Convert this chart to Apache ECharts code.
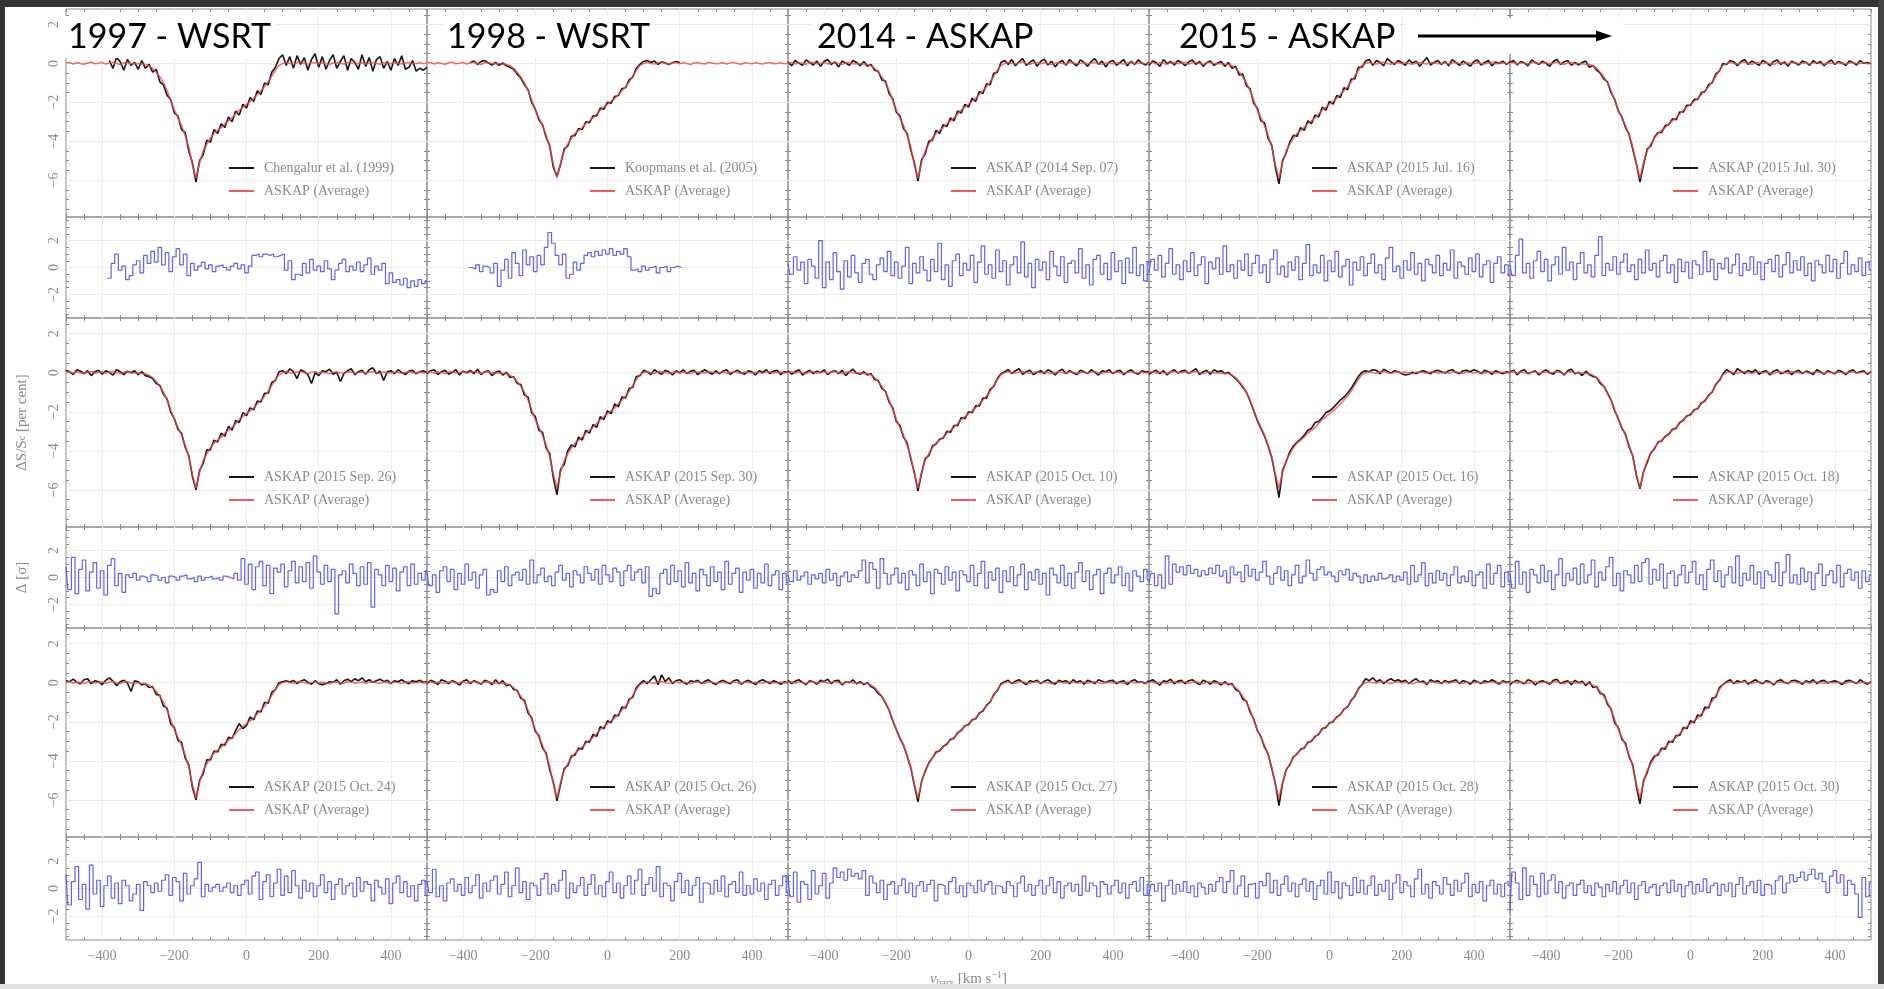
<!DOCTYPE html>
<html><head><meta charset="utf-8">
<script src="https://cdn.jsdelivr.net/npm/echarts@6/dist/echarts.min.js"></script>
<style>html,body{margin:0;padding:0;background:#fff;overflow:hidden}#c{width:1884px;height:989px}</style>
</head><body><div id="c"></div>
<script>
// ---------------- DATA ----------------
const velocity = [
-500,-490,-480,-470,-460,-450,-440,-430,-420,-410,
-400,-390,-380,-370,-360,-350,-340,-330,-320,-310,
-300,-290,-280,-270,-260,-250,-240,-230,-220,-210,
-200,-190,-180,-170,-160,-150,-140,-130,-120,-110,
-100,-90,-80,-70,-60,-50,-40,-30,-20,-10,
0,10,20,30,40,50,60,70,80,90,
100,110,120,130,140,150,160,170,180,190,
200,210,220,230,240,250,260,270,280,290,
300,310,320,330,340,350,360,370,380,390,
400,410,420,430,440,450,460,470,480,490,
500];

const average = [
0.02,0.05,-0.03,0.04,0.00,-0.04,0.03,0.06,-0.02,0.01,
0.05,-0.03,0.02,0.06,0.00,-0.05,0.03,0.05,-0.02,0.00,
-0.02,-0.04,-0.05,-0.12,-0.25,-0.45,-0.70,-1.00,-1.40,-1.90,
-2.40,-2.80,-3.20,-3.70,-4.30,-5.20,-5.90,-5.10,-4.50,-4.15,
-3.85,-3.60,-3.45,-3.30,-3.10,-2.95,-2.80,-2.60,-2.40,-2.25,
-2.10,-1.95,-1.80,-1.60,-1.40,-1.20,-0.95,-0.65,-0.35,-0.10,
0.00,0.05,0.00,-0.03,0.04,0.06,0.00,-0.04,0.02,0.05,
-0.02,0.03,0.00,-0.05,0.02,0.04,0.00,-0.03,0.05,0.02,
-0.02,0.00,0.04,-0.03,0.02,0.05,0.00,-0.04,0.03,0.01,
-0.02,0.04,0.00,-0.03,0.02,0.05,-0.01,0.00,0.03,-0.02,
0.01];

// individual spectra (black)
const obs01 = [ // 1997 WSRT
null,null,null,null,null,null,null,null,null,null,
null,null,0.15,-0.25,0.30,0.10,-0.35,0.20,-0.10,0.05,
-0.30,0.15,-0.25,-0.05,-0.45,-0.30,-0.95,-1.10,-1.65,-1.85,
-2.55,-2.70,-3.40,-3.55,-4.50,-5.10,-6.10,-5.00,-4.70,-3.95,
-4.05,-3.40,-3.60,-3.10,-3.30,-2.75,-3.00,-2.45,-2.65,-2.10,
-2.30,-1.75,-1.95,-1.40,-1.60,-1.00,-1.10,-0.45,-0.20,0.25,
0.45,-0.10,0.35,-0.25,0.40,-0.05,0.30,-0.35,0.20,0.50,
-0.20,0.35,-0.30,0.15,0.45,-0.25,0.10,0.40,-0.35,0.25,
0.05,-0.30,0.45,-0.15,0.30,-0.40,0.20,0.35,-0.25,0.10,
-0.35,0.25,-0.10,0.40,-0.30,-0.20,0.15,-0.40,-0.25,-0.35,
-0.20];
const obs02 = [ // 1998 WSRT
null,null,null,null,null,null,null,null,null,null,
null,null,0.05,0.12,-0.05,0.10,0.15,0.02,-0.08,0.05,
-0.10,0.02,-0.12,-0.20,-0.30,-0.55,-0.75,-1.10,-1.35,-2.00,
-2.35,-2.90,-3.15,-3.80,-4.25,-5.35,-5.80,-5.20,-4.40,-4.25,
-3.75,-3.70,-3.35,-3.40,-3.00,-3.05,-2.70,-2.70,-2.30,-2.35,
-2.00,-2.05,-1.70,-1.65,-1.30,-1.25,-0.85,-0.70,-0.25,-0.05,
0.10,0.15,0.05,0.12,-0.05,0.08,0.02,-0.06,0.04,0.10,
0.05,null,null,null,null,null,null,null,null,null,
null,null,null,null,null,null,null,null,null,null,
null,null,null,null,null,null,null,null,null,null,
null];
const obs03 = [
0.08,-0.12,0.15,0.02,-0.10,0.18,0.05,-0.08,0.12,-0.15,
0.10,0.20,-0.05,0.08,-0.18,0.12,0.02,-0.10,0.15,0.05,
-0.12,0.10,-0.15,-0.05,-0.35,-0.40,-0.85,-0.90,-1.55,-1.80,
-2.50,-2.70,-3.35,-3.60,-4.45,-5.10,-6.05,-4.95,-4.65,-4.00,
-3.95,-3.45,-3.60,-3.15,-3.25,-2.80,-2.95,-2.45,-2.55,-2.10,
-2.25,-1.80,-1.95,-1.45,-1.55,-1.05,-1.10,-0.50,-0.45,0.05,
0.15,-0.05,0.20,-0.12,0.08,0.25,-0.10,0.05,0.18,-0.15,
0.10,0.22,-0.08,0.12,-0.18,0.05,0.15,-0.10,0.20,0.02,
-0.12,0.18,0.05,-0.15,0.10,0.25,-0.05,0.12,-0.18,0.08,
0.15,-0.10,0.05,0.20,-0.12,0.10,-0.05,0.18,0.02,-0.08,
0.05];
const obs04 = [
-0.10,0.12,0.05,-0.15,0.20,0.00,0.10,-0.08,0.15,0.05,
-0.12,0.08,0.18,-0.05,0.10,-0.15,0.05,0.12,-0.10,0.02,
0.10,-0.15,0.05,-0.25,-0.15,-0.60,-0.55,-1.15,-1.30,-2.05,
-2.30,-2.95,-3.05,-3.85,-4.20,-5.35,-6.20,-5.00,-4.60,-4.05,
-3.70,-3.75,-3.30,-3.45,-2.95,-3.10,-2.65,-2.75,-2.25,-2.40,
-1.95,-2.10,-1.65,-1.75,-1.25,-1.35,-0.80,-0.80,-0.20,-0.20,
0.12,0.20,-0.10,0.15,0.05,-0.12,0.25,0.08,-0.05,0.15,
0.05,-0.10,0.18,0.02,0.12,-0.15,0.10,0.30,-0.08,0.05,
0.15,-0.05,0.10,-0.12,0.20,0.05,-0.10,0.12,0.00,-0.15,
0.10,0.18,-0.08,0.05,0.15,-0.12,0.08,0.00,0.12,-0.05,
0.08];
const obs05 = [
0.05,0.15,-0.08,0.10,0.02,-0.12,0.18,0.05,-0.05,0.12,
0.00,-0.15,0.10,0.20,-0.05,0.08,0.15,-0.10,0.05,-0.08,
0.05,0.12,-0.20,-0.10,-0.35,-0.50,-0.80,-0.95,-1.50,-1.85,
-2.45,-2.75,-3.30,-3.65,-4.40,-5.15,-6.10,-5.20,-4.40,-4.25,
-3.80,-3.55,-3.55,-3.20,-3.15,-2.85,-2.90,-2.50,-2.50,-2.15,
-2.15,-1.85,-1.85,-1.50,-1.45,-1.10,-1.00,-0.55,-0.40,0.00,
-0.05,0.15,0.08,-0.12,0.10,0.20,-0.05,0.12,0.02,-0.10,
0.15,0.05,-0.12,0.10,0.18,-0.05,0.08,-0.15,0.12,0.02,
-0.08,0.12,0.05,-0.10,0.15,0.00,0.10,-0.12,0.05,0.18,
-0.05,0.10,0.02,-0.10,0.12,0.05,-0.08,0.15,0.00,0.05,
-0.02];
const obs06 = [
0.12,0.05,-0.10,0.15,0.08,-0.05,0.10,-0.15,0.05,0.12,
-0.08,0.10,0.02,-0.12,0.15,0.05,-0.10,0.08,0.00,0.10,
-0.10,0.05,-0.15,-0.20,-0.30,-0.55,-0.65,-1.10,-1.35,-2.00,
-2.35,-2.90,-3.10,-3.80,-4.25,-5.30,-6.00,-5.00,-4.65,-3.95,
-3.95,-3.45,-3.55,-3.10,-3.25,-2.75,-2.95,-2.45,-2.55,-2.05,
-2.20,-1.80,-1.90,-1.45,-1.50,-1.05,-1.05,-0.50,-0.40,0.05,
0.10,-0.05,0.20,0.05,-0.30,0.15,0.05,-0.10,-0.55,0.00,
-0.15,0.10,0.05,0.18,-0.08,0.02,-0.45,-0.05,0.10,0.20,
-0.10,0.05,0.12,-0.08,0.15,0.25,-0.05,0.08,-0.40,0.05,
0.10,-0.05,0.15,0.02,-0.10,0.08,0.12,-0.05,0.05,0.10,
0.00];
const obs07 = [
-0.05,0.10,0.15,-0.10,0.05,0.12,-0.08,0.02,0.15,-0.12,
0.08,0.00,0.12,-0.05,0.18,-0.10,0.05,0.10,-0.15,0.02,
0.08,-0.12,0.02,-0.25,-0.20,-0.55,-0.60,-1.15,-1.25,-2.05,
-2.25,-2.95,-3.05,-3.85,-4.15,-5.40,-6.25,-4.95,-4.70,-4.00,
-3.70,-3.80,-3.30,-3.45,-2.95,-3.10,-2.65,-2.80,-2.25,-2.40,
-1.95,-2.10,-1.60,-1.75,-1.25,-1.30,-0.80,-0.75,-0.20,-0.15,
0.12,0.05,-0.10,0.15,0.02,-0.08,0.12,0.05,-0.12,0.10,
0.00,0.15,-0.05,0.08,0.12,-0.10,0.05,0.15,0.02,-0.08,
0.10,-0.05,0.08,0.15,-0.10,0.05,0.12,0.00,-0.08,0.10,
0.05,-0.12,0.10,0.02,0.15,-0.05,0.08,0.12,-0.10,0.05,
0.02];
const obs08 = [
0.10,-0.08,0.05,0.15,-0.12,0.02,0.12,-0.05,0.08,0.00,
0.15,-0.10,0.05,0.10,-0.05,0.12,-0.15,0.05,0.18,-0.02,
-0.08,0.05,-0.12,-0.05,-0.35,-0.40,-0.80,-0.95,-1.50,-1.80,
-2.50,-2.70,-3.30,-3.60,-4.40,-5.10,-6.05,-5.15,-4.40,-4.25,
-3.75,-3.65,-3.40,-3.35,-3.00,-3.05,-2.70,-2.70,-2.30,-2.35,
-2.00,-2.05,-1.70,-1.70,-1.30,-1.30,-0.85,-0.70,-0.30,-0.05,
0.05,0.15,-0.05,0.10,0.20,-0.08,0.05,0.12,-0.10,0.02,
0.10,-0.05,0.15,0.05,-0.12,0.08,0.18,-0.05,0.10,0.00,
-0.10,0.12,0.05,-0.05,0.15,0.02,-0.12,0.10,0.05,0.15,
-0.05,0.08,0.12,-0.10,0.05,0.15,0.00,-0.08,0.10,0.05,
0.05];
const obs09 = [
-0.08,0.05,0.12,-0.05,0.10,-0.12,0.05,0.15,-0.02,0.08,
0.12,-0.05,0.08,0.20,-0.10,0.05,0.12,-0.08,0.15,0.05,
0.10,-0.05,0.02,-0.15,-0.30,-0.50,-0.75,-1.00,-1.45,-1.95,
-2.45,-2.85,-3.25,-3.75,-4.35,-5.30,-6.40,-5.00,-4.55,-4.05,
-3.75,-3.55,-3.40,-3.20,-2.95,-2.85,-2.55,-2.50,-2.30,-2.05,
-1.95,-1.80,-1.60,-1.40,-1.25,-1.05,-0.80,-0.50,-0.20,0.02,
0.10,0.05,0.15,0.12,-0.05,0.18,0.08,-0.02,0.10,0.05,
-0.05,-0.12,-0.08,0.02,-0.05,0.05,0.10,0.02,-0.05,0.08,
0.12,0.05,-0.02,0.10,0.15,0.02,-0.05,0.10,0.12,0.05,
0.15,0.08,-0.05,0.12,0.05,-0.08,0.10,0.02,-0.05,0.05,
0.00];
const obs10 = [
0.05,0.12,-0.10,0.08,0.15,-0.05,0.02,0.10,-0.12,0.05,
0.15,0.00,-0.08,0.12,0.05,-0.12,0.10,0.18,-0.05,0.02,
-0.15,0.08,-0.10,-0.20,-0.25,-0.55,-0.70,-1.05,-1.40,-1.95,
-2.35,-2.85,-3.15,-3.80,-4.25,-5.25,-5.95,-5.05,-4.60,-4.10,
-3.90,-3.55,-3.50,-3.25,-3.15,-2.90,-2.85,-2.55,-2.45,-2.20,
-2.15,-1.90,-1.85,-1.55,-1.45,-1.15,-1.00,-0.60,-0.40,-0.05,
0.15,0.05,-0.10,0.20,0.08,-0.05,0.12,0.02,0.15,-0.08,
0.05,0.10,-0.12,0.08,0.15,-0.05,0.02,0.12,-0.10,0.05,
0.12,-0.05,0.08,0.02,-0.10,0.15,0.05,-0.08,0.10,0.02,
-0.05,0.12,0.05,-0.10,0.08,0.15,-0.02,0.05,0.10,-0.08,
0.05];
const obs11 = [
0.10,0.05,0.18,0.02,-0.05,0.15,0.20,-0.05,0.10,0.05,
-0.10,0.12,0.25,0.08,-0.15,0.05,0.12,0.00,-0.45,0.10,
0.05,-0.12,-0.05,-0.25,-0.20,-0.60,-0.65,-1.20,-1.30,-2.10,
-2.30,-2.95,-3.05,-3.85,-4.20,-5.35,-6.00,-5.00,-4.65,-3.95,
-3.95,-3.50,-3.55,-3.15,-3.20,-2.80,-2.85,-2.45,-2.10,-2.35,
-2.20,-1.75,-1.90,-1.45,-1.50,-1.00,-1.05,-0.50,-0.35,0.00,
0.05,0.10,0.02,0.12,-0.05,0.08,0.15,0.02,-0.08,0.10,
-0.05,-0.10,-0.05,0.05,0.02,0.15,-0.08,0.10,0.18,0.05,
0.20,0.10,0.25,0.05,0.15,0.02,0.10,0.18,0.05,0.12,
-0.05,0.10,0.05,0.15,0.02,-0.05,0.10,0.05,0.12,0.02,
0.05];
const obs12 = [
-0.05,0.12,0.05,-0.10,0.15,0.08,-0.05,0.10,0.02,-0.12,
0.08,0.15,-0.05,0.10,0.02,-0.08,0.12,0.05,-0.10,0.15,
-0.05,0.10,-0.15,-0.10,-0.35,-0.40,-0.80,-0.90,-1.55,-1.80,
-2.50,-2.70,-3.35,-3.60,-4.45,-5.10,-6.05,-5.20,-4.40,-4.25,
-3.75,-3.70,-3.35,-3.40,-3.00,-3.05,-2.65,-2.75,-2.25,-2.35,
-1.95,-2.05,-1.65,-1.70,-1.25,-1.30,-0.85,-0.75,-0.25,-0.05,
0.10,-0.05,0.15,0.35,-0.10,0.40,0.05,0.25,-0.05,0.10,
0.15,0.02,-0.08,0.10,0.05,0.12,-0.05,0.08,0.15,0.00,
-0.10,0.05,0.12,0.02,-0.05,0.10,0.15,-0.08,0.05,0.12,
0.02,-0.10,0.08,0.15,0.05,-0.05,0.10,0.02,-0.08,0.05,
0.00];
const obs13 = [
0.12,-0.05,0.08,0.15,0.02,-0.10,0.10,0.05,-0.08,0.12,
0.05,0.18,-0.05,0.10,0.12,-0.12,0.05,0.00,0.15,-0.05,
0.05,-0.10,0.00,-0.20,-0.30,-0.55,-0.70,-1.05,-1.40,-1.95,
-2.40,-2.85,-3.20,-3.75,-4.35,-5.25,-6.10,-5.05,-4.55,-4.10,
-3.85,-3.55,-3.50,-3.25,-3.15,-2.90,-2.85,-2.55,-2.45,-2.20,
-2.15,-1.90,-1.85,-1.55,-1.45,-1.15,-1.00,-0.60,-0.40,-0.05,
0.05,0.12,-0.05,0.08,0.15,0.02,-0.10,0.10,0.05,0.12,
-0.05,0.08,0.15,0.02,-0.08,0.12,0.05,0.10,-0.05,0.15,
0.02,0.10,-0.08,0.12,0.05,-0.05,0.15,0.08,0.00,0.10,
0.12,-0.05,0.05,0.10,-0.10,0.08,0.15,0.02,0.05,-0.05,
0.10];
const obs14 = [
0.05,0.15,0.02,-0.12,0.10,0.05,0.18,-0.05,0.08,0.12,
-0.05,0.10,0.15,0.02,-0.10,0.12,0.05,-0.08,0.10,0.02,
-0.12,0.05,-0.10,-0.05,-0.35,-0.45,-0.85,-0.95,-1.50,-1.85,
-2.45,-2.75,-3.30,-3.65,-4.40,-5.15,-6.30,-5.15,-4.45,-4.20,
-3.80,-3.65,-3.40,-3.35,-3.05,-3.00,-2.75,-2.65,-2.35,-2.30,
-2.05,-2.00,-1.75,-1.65,-1.35,-1.25,-0.90,-0.70,-0.30,-0.10,
0.20,0.10,0.25,0.05,0.15,-0.05,0.10,0.20,0.08,0.15,
0.05,0.12,-0.05,0.10,0.20,0.02,0.08,-0.10,0.15,0.05,
0.10,-0.05,0.12,0.02,0.08,0.15,-0.05,0.10,0.05,-0.08,
0.12,0.05,-0.05,0.10,0.02,0.15,0.05,-0.08,0.10,0.02,
0.05];
const obs15 = [
-0.10,0.05,0.12,0.02,-0.05,0.15,0.08,-0.12,0.05,0.10,
0.02,-0.08,0.12,0.18,-0.05,0.05,0.10,-0.10,0.12,0.00,
0.08,-0.15,0.05,-0.25,-0.20,-0.55,-0.60,-1.10,-1.35,-2.05,
-2.30,-2.90,-3.10,-3.80,-4.20,-5.30,-6.20,-5.00,-4.60,-4.05,
-3.75,-3.70,-3.35,-3.40,-3.00,-3.05,-2.70,-2.70,-2.30,-2.35,
-1.95,-2.05,-1.65,-1.70,-1.25,-1.30,-0.80,-0.75,-0.25,-0.10,
0.05,0.15,-0.05,0.10,0.02,0.12,-0.08,0.05,0.15,0.02,
-0.05,0.10,0.05,-0.12,0.08,0.15,0.02,-0.05,0.10,0.12,
0.05,-0.08,0.10,0.02,0.15,-0.05,0.08,0.12,-0.02,0.05,
0.10,0.02,-0.10,0.08,0.12,0.05,-0.05,0.15,0.02,-0.08,
0.05];

// residuals (blue), in sigma
const res01 = [
null,null,null,null,null,null,null,null,null,null,
null,null,-0.8,0.3,1.0,-0.2,0.1,-0.9,-0.6,0.2,
0.5,-0.4,0.9,0.3,1.2,0.4,1.5,0.2,1.1,-0.3,
0.8,1.4,0.2,1.0,-0.6,0.3,-0.2,0.1,0.4,-0.1,
0.2,-0.3,0.1,0.2,0.0,-0.2,0.1,0.3,-0.1,0.2,
-0.4,0.1,0.9,1.0,0.8,1.0,0.9,1.0,0.8,0.9,
1.0,-0.2,0.5,-0.9,-0.5,-0.6,0.3,-0.4,0.6,-0.2,
0.1,-0.3,0.5,-0.1,-0.9,-0.2,0.3,0.6,-0.3,0.1,
-0.2,0.4,-0.3,0.2,0.7,-0.5,0.1,-0.2,0.3,-1.2,
-0.4,-1.1,-0.9,-1.3,-0.8,-1.5,-1.0,-1.4,-0.9,-1.2,
-1.0];
const res02 = [
null,null,null,null,null,null,null,null,null,null,
null,null,0.0,-0.1,0.2,-0.3,0.1,0.0,-0.4,0.3,
-1.4,-0.2,0.6,-0.8,1.1,0.3,-0.6,1.3,0.2,0.8,
-0.3,0.9,0.2,1.5,2.6,1.8,0.9,0.2,1.0,-0.8,
-0.5,0.4,-0.2,0.3,0.9,1.1,0.8,1.2,0.9,1.3,
1.0,1.4,0.9,1.2,1.0,1.4,0.8,-0.2,-0.1,-0.3,
0.1,-0.2,0.0,0.1,-0.4,0.0,0.1,-0.3,0.0,0.1,
0.0,null,null,null,null,null,null,null,null,null,
null,null,null,null,null,null,null,null,null,null,
null,null,null,null,null,null,null,null,null,null,
null];
const res03 = [
0.3,-0.5,0.8,-0.2,0.4,-1.2,0.6,0.1,-0.8,2.0,
-1.5,0.4,-0.9,1.1,-0.3,-1.6,0.5,-0.7,0.9,-0.4,
-1.1,0.3,0.6,-0.5,-0.9,0.2,0.7,-0.3,1.2,-0.6,
0.4,-0.8,0.1,1.5,-1.2,0.3,-0.4,0.8,-0.2,-1.0,
0.6,-0.3,1.8,-0.9,0.2,-1.4,0.5,1.0,-0.6,0.3,
-0.2,0.9,-1.1,0.4,1.6,-0.5,0.2,-0.8,1.3,-0.3,
0.5,-1.3,0.2,0.8,-0.4,1.9,-0.7,0.3,-1.5,0.6,
-0.2,0.4,-0.9,1.2,0.1,-0.6,0.8,-1.1,0.3,0.5,
-0.4,1.4,-0.8,0.2,-1.3,0.6,0.9,-0.5,0.3,-0.9,
1.1,-0.3,0.5,-1.2,0.7,-0.4,1.5,-0.6,0.2,-1.0,
0.4];
const res04 = [
-0.4,0.6,-0.2,0.9,-0.7,0.3,1.4,-0.5,0.2,-0.9,
0.5,-0.3,1.1,-0.6,0.2,0.8,-1.2,0.4,-0.1,0.7,
-0.5,1.6,-0.3,0.2,-0.8,0.5,-0.2,1.0,-0.6,0.3,
0.9,-0.4,0.2,-1.1,0.6,1.3,-0.5,0.1,-0.7,0.4,
-0.2,0.8,-0.9,0.3,1.7,-0.6,0.2,-0.4,0.9,-1.0,
0.5,-0.3,1.2,-0.7,0.1,0.6,-1.3,0.4,-0.2,0.8,
-0.6,0.3,1.0,-0.4,0.2,-0.9,0.7,1.5,-0.3,0.1,
-0.8,0.5,-0.2,1.1,-0.5,0.3,-1.0,0.6,0.2,-0.4,
0.9,-0.6,0.3,-0.2,1.3,-0.8,0.4,0.1,-0.5,0.7,
-0.3,1.0,-0.7,0.2,0.5,-1.1,0.3,0.8,-0.4,0.2,
-0.6];
const res05 = [
0.2,-0.6,0.9,2.1,-0.4,0.3,-0.8,0.5,1.2,-0.3,
0.6,-1.0,0.2,0.8,-0.5,1.5,-0.2,0.4,-0.9,0.3,
1.1,-0.4,0.2,-0.7,0.9,2.3,-0.6,0.3,-0.2,0.8,
-0.5,0.4,1.0,-0.3,0.2,-0.9,0.6,-0.4,1.3,-0.2,
0.3,-0.7,0.5,0.9,-0.4,0.2,-1.1,0.6,-0.3,0.4,
-0.8,0.5,0.2,-0.5,1.2,-0.3,0.6,-0.9,0.3,-0.1,
0.7,-0.4,0.2,1.0,-0.6,0.3,-0.2,0.8,-0.5,0.4,
-0.9,0.3,0.6,-0.3,0.9,-0.7,0.2,1.1,-0.4,0.5,
-0.2,0.8,-0.6,0.3,-1.0,0.5,0.2,-0.4,0.9,-0.3,
0.6,-0.8,0.3,1.2,-0.5,0.2,-0.3,0.7,-0.6,0.4,
-0.2];
const res06 = [
0.8,-0.9,1.5,-1.2,0.6,1.3,-1.0,0.4,1.1,-0.8,
0.5,-1.3,0.9,1.4,-0.6,0.3,-1.1,0.2,0.0,0.3,
-0.2,0.1,0.0,-0.3,0.2,0.1,-0.2,0.0,-0.4,0.1,
0.0,-0.2,0.1,0.2,-0.1,0.0,-0.3,0.1,-0.2,0.0,
0.1,-0.1,0.0,-0.2,0.1,0.0,-0.1,0.3,-0.2,1.4,
-0.5,1.0,-0.9,0.8,1.2,-0.6,0.9,-1.2,0.7,0.4,
1.0,-0.7,0.5,1.2,-0.4,0.8,-0.3,1.1,-0.8,1.6,
0.4,-0.5,0.9,-0.3,0.6,-2.7,0.2,0.5,-0.4,1.0,
0.3,-0.6,0.8,-0.5,1.1,-2.2,0.6,0.2,-0.6,0.9,
-0.3,0.7,-1.0,0.4,0.8,-0.6,1.0,-0.5,0.3,-0.2,
0.5];
const res07 = [
0.4,-0.6,0.2,-1.1,0.5,0.8,-0.3,0.6,-0.9,0.3,
-0.5,1.0,-0.2,0.4,-0.8,0.2,0.6,-1.3,-0.9,-1.1,
0.5,-0.3,0.8,-0.6,0.2,0.4,-0.2,0.6,-0.5,1.3,
-0.4,0.2,0.7,-0.3,0.1,-0.6,0.4,0.9,-0.2,0.3,
-0.7,0.5,0.2,-0.4,0.8,0.3,-0.2,0.6,-0.5,0.9,
0.2,-0.3,0.7,0.4,-0.6,0.5,0.9,-0.2,0.4,0.6,
-0.4,0.8,-1.4,-0.8,-1.2,0.3,0.6,-0.5,0.9,-0.3,
0.5,-0.7,1.1,-0.4,0.3,-1.0,0.6,0.2,-0.6,0.8,
-0.3,0.4,-0.9,1.2,-0.5,0.3,0.7,-1.1,0.4,-0.2,
0.6,-0.8,0.3,-0.4,1.0,-0.6,0.2,0.5,-0.9,0.3,
-0.4];
const res08 = [
0.2,-0.3,0.5,-0.2,0.1,0.4,-0.5,0.2,-0.1,0.3,
-0.4,0.6,-0.2,0.3,-0.6,0.1,0.4,-0.3,0.2,0.0,
0.5,1.3,-0.4,1.1,0.6,-0.8,1.4,0.3,-0.5,0.2,
0.7,-0.4,0.3,-0.9,0.5,0.2,-0.6,1.0,-0.3,0.4,
-1.2,0.6,0.3,-0.5,0.8,-0.2,0.4,-1.0,0.5,0.2,
-0.3,0.9,-0.6,0.3,1.2,-0.8,0.4,-0.2,0.7,-1.1,
0.5,-0.3,0.8,-0.6,0.2,1.0,-0.9,0.4,-0.2,0.6,
-0.5,0.3,-1.3,0.7,0.2,-0.4,0.9,-0.6,0.3,-0.8,
0.4,1.1,-0.3,0.5,-0.9,0.2,0.6,-1.2,0.3,0.7,
-0.4,0.2,0.8,-0.6,0.3,-1.0,0.5,0.1,-0.3,0.6,
-0.2];
const res09 = [
-0.4,0.3,-0.6,0.2,-0.8,1.6,-0.5,1.0,0.4,0.8,
0.2,0.9,0.3,0.6,0.1,0.5,0.2,0.7,0.3,0.9,
0.1,0.5,-0.4,0.8,0.2,0.4,-0.3,0.9,0.1,0.6,
-0.2,0.4,1.2,0.1,-0.5,0.3,0.8,-0.2,0.5,-0.6,
0.2,0.9,-0.4,0.1,1.3,0.3,-0.2,0.6,0.8,0.2,
0.4,0.1,-0.3,0.5,0.2,0.6,-0.2,0.3,0.1,-0.4,
0.2,-0.3,0.1,-0.2,0.3,-0.1,0.0,0.2,-0.3,0.1,
-0.2,0.4,-0.5,0.9,-0.3,0.2,1.1,-0.6,0.3,-0.4,
0.5,-0.2,0.3,-0.6,0.2,0.8,-0.4,0.1,-0.3,0.5,
-0.6,0.2,0.4,-0.8,1.0,-0.5,0.3,0.9,-0.7,0.4,
-0.3];
const res10 = [
0.3,-0.8,1.2,-0.5,0.4,-1.1,0.6,0.2,-0.4,0.9,
-0.3,0.5,-0.9,0.2,1.4,-0.6,0.3,-0.2,0.7,-0.5,
1.0,-0.4,0.2,1.3,-0.7,0.4,-0.2,0.8,1.5,-0.6,
0.3,-1.0,0.5,0.2,-0.4,0.9,-0.3,1.1,1.4,-0.5,
0.6,-0.2,1.0,-0.8,0.3,0.5,-0.6,0.2,0.9,-0.4,
0.4,1.2,-0.5,0.2,-0.9,0.6,1.3,-0.3,0.5,-0.7,
0.2,0.8,-0.4,1.6,-0.6,0.3,-0.2,0.9,-0.5,0.4,
-0.8,0.5,0.2,-0.3,1.1,-0.6,0.4,1.7,-0.4,0.2,
-0.5,0.7,-0.3,0.4,-0.9,0.3,1.0,-0.6,0.2,0.5,
-0.4,0.9,-0.7,0.3,0.6,-0.2,0.4,-0.8,0.5,-0.3,
0.2];
const res11 = [
1.0,-1.2,0.5,1.6,-0.8,0.3,-1.5,1.7,-0.4,0.6,
-1.3,0.2,0.9,-0.7,0.4,-1.1,0.6,0.2,-0.9,-0.4,
0.3,-1.6,0.5,0.2,-0.3,0.4,-0.2,0.6,1.0,-0.5,
0.8,0.5,-0.9,1.1,-0.4,0.2,0.7,1.9,-0.6,0.3,
-0.2,0.1,0.3,-0.2,0.1,0.4,-0.3,0.2,-0.5,0.3,
0.6,-0.4,0.9,1.2,-0.8,0.5,1.0,-0.6,0.4,1.4,
-0.5,0.9,-0.3,1.3,0.2,-0.7,0.6,-0.2,0.4,-0.6,
0.2,1.0,-0.3,0.5,-0.8,0.3,0.7,-0.4,0.2,0.4,
-0.6,0.8,-0.2,0.5,0.3,-0.9,0.6,0.1,-0.4,0.7,
-1.1,0.4,0.9,-0.3,0.5,-0.6,0.2,-0.9,0.3,0.6,
-0.5];
const res12 = [
0.5,-0.3,1.4,-0.6,0.2,-0.9,0.4,0.7,-0.2,0.3,
-0.5,0.8,-0.3,0.2,1.0,-0.7,0.4,-0.2,0.6,0.9,
-0.4,0.3,1.2,-0.6,0.2,1.5,-0.3,0.5,-0.8,0.4,
0.2,-0.5,0.7,1.1,-0.4,0.3,-0.2,0.6,1.3,-0.7,
0.4,-0.3,0.2,0.8,-0.5,0.3,1.0,-0.4,0.2,-0.6,
0.5,1.2,-0.3,0.4,-0.7,0.2,0.9,-0.4,0.6,1.4,
-0.5,0.3,0.8,-0.2,1.6,-0.6,0.4,0.2,-0.9,0.5,
1.1,-0.3,0.6,-0.5,0.2,0.8,-1.0,0.4,0.3,-0.4,
0.6,-0.2,0.9,-0.6,0.3,0.5,-0.3,1.2,-0.5,0.2,
-0.4,0.7,-0.2,0.4,-0.8,0.3,0.6,-0.5,0.2,0.9,
-0.3];
const res13 = [
0.9,-0.6,1.2,-1.0,0.5,0.3,-0.8,1.3,-0.4,0.2,
1.1,-0.7,0.4,1.5,0.8,1.2,0.6,1.4,0.9,1.1,
0.7,1.3,-0.5,0.9,0.4,-0.3,0.6,-0.8,0.3,0.5,
-0.4,0.2,0.7,-0.3,0.4,-0.6,0.2,0.5,-0.2,0.3,
0.6,-0.9,0.3,0.2,-0.4,0.5,0.8,-0.3,0.2,-0.6,
0.4,0.2,-0.3,0.6,-0.2,0.3,0.5,-0.4,0.2,0.1,
-0.3,0.5,0.2,-0.6,0.4,0.9,-0.2,0.3,-0.5,0.2,
0.6,-0.4,0.2,0.8,-0.3,0.5,-0.7,0.2,0.4,-0.2,
0.3,-0.5,0.9,-0.2,0.4,0.2,-0.6,0.5,0.3,-0.4,
0.2,0.6,-0.3,0.4,-0.7,0.3,0.5,-0.2,0.8,-0.5,
0.3];
const res14 = [
-0.5,0.3,-0.2,0.4,-0.9,0.2,0.6,-0.4,0.3,-0.2,
0.5,-0.3,0.2,-0.6,0.4,0.1,-0.4,0.3,-0.2,0.5,
0.8,-0.3,0.5,1.3,-0.4,0.2,0.9,-0.6,0.3,0.4,
-0.7,0.5,0.2,1.1,-0.3,0.6,-0.5,0.3,0.9,-0.2,
0.4,-0.6,0.3,0.7,-0.2,0.5,-0.8,0.2,0.6,-0.4,
1.2,-0.3,0.5,-0.7,0.4,0.2,-0.5,0.8,-0.3,0.6,
-0.4,0.2,0.9,-0.5,0.3,-0.2,0.6,-0.8,0.4,1.0,
-0.3,0.5,0.2,-0.6,0.7,1.4,-0.4,0.3,-0.7,0.5,
0.2,-0.4,0.8,0.3,-0.5,0.6,-0.2,0.4,1.1,-0.6,
0.3,-0.3,0.5,-0.9,0.2,0.6,-0.4,0.3,-0.6,0.4,
0.2];
const res15 = [
-1.6,1.2,0.4,-0.8,1.5,-0.5,0.9,0.3,-0.6,1.1,
-0.4,0.6,1.0,-0.3,0.5,-0.7,0.2,0.4,-0.5,0.3,
0.6,-0.3,0.2,-0.5,0.4,0.1,-0.6,0.3,-0.2,0.5,
-0.4,0.2,0.6,-0.3,0.4,-0.8,0.2,0.5,-0.3,0.1,
0.3,-0.5,0.2,0.4,-0.3,0.6,-0.2,0.3,-0.6,0.2,
0.5,-0.4,0.3,-0.2,0.7,-0.3,0.2,0.4,-0.5,0.3,
-0.2,0.4,-0.6,0.3,0.8,-0.4,0.2,0.5,-0.3,0.6,
-0.5,0.3,0.2,-0.4,0.6,0.9,-0.3,0.4,1.0,0.5,
0.8,1.2,0.6,1.0,1.4,0.7,1.1,0.5,-0.3,0.9,
1.3,0.4,1.0,-0.5,0.6,0.3,-0.4,-2.1,0.8,-0.6,
0.4];

const obsNames = [
  'Chengalur et al. (1999)', 'Koopmans et al. (2005)', 'ASKAP (2014 Sep. 07)', 'ASKAP (2015 Jul. 16)', 'ASKAP (2015 Jul. 30)',
  'ASKAP (2015 Sep. 26)', 'ASKAP (2015 Sep. 30)', 'ASKAP (2015 Oct. 10)', 'ASKAP (2015 Oct. 16)', 'ASKAP (2015 Oct. 18)',
  'ASKAP (2015 Oct. 24)', 'ASKAP (2015 Oct. 26)', 'ASKAP (2015 Oct. 27)', 'ASKAP (2015 Oct. 28)', 'ASKAP (2015 Oct. 30)'
];
const averageName = 'ASKAP (Average)';
const epochTitles = ['1997 - WSRT', '1998 - WSRT', '2014 - ASKAP', '2015 - ASKAP'];
const xTickLabels = [-400, -200, 0, 200, 400];
const mainTickLabels = [2, 0, -2, -4, -6];
const resTickLabels = [2, 0, -2];
const mainMinorTicks = [2.5,2,1.5,1,0.5,0,-0.5,-1,-1.5,-2,-2.5,-3,-3.5,-4,-4.5,-5,-5.5,-6,-6.5,-7,-7.5];
const resMinorTicks = [3.5,3,2.5,2,1.5,1,0.5,0,-0.5,-1,-1.5,-2,-2.5,-3,-3.5];
const mainRange = [-7.9, 2.8];
const resRange = [-3.75, 3.75];

// ---------------- LAYOUT ----------------
const colX = [66, 427, 788, 1149, 1510], colW = 361;
const mainTop = [9, 318, 628], mainH = [208, 209, 209];
const resTop = [217, 527, 837], resH = [101, 101, 103];
const obsGrid = [[obs01, obs02, obs03, obs04, obs05], [obs06, obs07, obs08, obs09, obs10], [obs11, obs12, obs13, obs14, obs15]];
const resGrid = [[res01, res02, res03, res04, res05], [res06, res07, res08, res09, res10], [res11, res12, res13, res14, res15]];

const frameColor = '#8a8a8a';
const labelFont = { fontFamily: 'Liberation Serif', fontSize: 14, color: '#8a8a8a' };
const fmt = v => (v < 0 ? '\u2212' + Math.abs(v) : String(v));
const pairs = arr => velocity.map((v, i) => [v, arr[i]]);

const grids = [], xAxes = [], yAxes = [], series = [], legends = [];

function addX(g, pos, showLabel, extra) {
  xAxes.push(Object.assign({
    type: 'value', gridIndex: g, position: pos, min: -500, max: 500, interval: 50,
    axisLine: { show: false, onZero: false }, splitLine: { show: false },
    axisTick: { show: true, inside: true, length: 3, lineStyle: { color: frameColor, width: 1 } },
    axisLabel: Object.assign({ show: showLabel, margin: 9, showMinLabel: false, showMaxLabel: false,
      formatter: v => (xTickLabels.indexOf(v) >= 0 ? fmt(v) : '') }, labelFont)
  }, extra || {}));
  return xAxes.length - 1;
}
function addY(g, pos, isMain, showLabel, extra) {
  const rng = isMain ? mainRange : resRange;
  yAxes.push(Object.assign({
    type: 'value', gridIndex: g, position: pos, min: rng[0], max: rng[1],
    axisLine: { show: false, onZero: false }, splitLine: { show: false },
    axisTick: { show: true, inside: true, length: 3, customValues: isMain ? mainMinorTicks : resMinorTicks,
      lineStyle: { color: frameColor, width: 1 } },
    axisLabel: Object.assign({ show: showLabel, rotate: 90, margin: 5,
      customValues: isMain ? mainTickLabels : resTickLabels, formatter: v => fmt(v) }, labelFont)
  }, extra || {}));
  return yAxes.length - 1;
}
function gridLines(isMain) {
  return {
    silent: true, symbol: 'none', z: 1, animation: false,
    label: { show: false }, emphasis: { disabled: true },
    lineStyle: { color: '#ebebeb', width: 1, type: 'solid' },
    data: xTickLabels.map(v => ({ xAxis: v })).concat((isMain ? mainTickLabels : resTickLabels).map(v => ({ yAxis: v })))
  };
}

for (let r = 0; r < 3; r++) {
  for (let c = 0; c < 5; c++) {
    const k = r * 5 + c;
    // main panel
    const gm = grids.length;
    grids.push({ left: colX[c], top: mainTop[r], width: colW, height: mainH[r], show: true,
      borderColor: frameColor, borderWidth: 1, backgroundColor: 'transparent' });
    const xm = addX(gm, 'bottom', false);
    addX(gm, 'top', false);
    const ymExtra = (r === 1 && c === 0) ? {
      name: '{a|ΔS/S}{b|c}{a| [per cent]}', nameLocation: 'middle', nameGap: 36,
      nameTextStyle: { rich: { a: { fontFamily: 'Liberation Serif', fontSize: 15, color: '#8a8a8a' },
                               b: { fontFamily: 'Liberation Serif', fontSize: 10, color: '#8a8a8a' } } }
    } : null;
    const ym = addY(gm, 'left', true, c === 0, ymExtra);
    addY(gm, 'right', true, false);

    series.push({ type: 'line', name: obsNames[k], xAxisIndex: xm, yAxisIndex: ym, data: pairs(obsGrid[r][c]),
      symbol: 'none', silent: true, z: 3, lineStyle: { color: '#161616', width: 1.6 }, itemStyle: { color: '#161616' },
      markLine: gridLines(true) });
    series.push({ type: 'line', name: averageName, xAxisIndex: xm, yAxisIndex: ym, data: pairs(average),
      symbol: 'none', silent: true, z: 4, lineStyle: { color: 'rgba(238,72,72,0.78)', width: 1.6 },
      itemStyle: { color: '#ee5a5a' } });

    legends.push({ left: colX[c] + 163, top: mainTop[r] + 152, orient: 'vertical', padding: 0, itemGap: 9,
      itemWidth: 25, itemHeight: 2, icon: 'rect', selectedMode: false,
      data: [obsNames[k], averageName],
      textStyle: { fontFamily: 'Liberation Serif', fontSize: 14, color: '#8a8a8a', lineHeight: 14, padding: [0, 0, 0, 5] } });

    // residual panel
    const gr = grids.length;
    grids.push({ left: colX[c], top: resTop[r], width: colW, height: resH[r], show: true,
      borderColor: frameColor, borderWidth: 1, backgroundColor: 'transparent' });
    const xrExtra = (r === 2 && c === 2) ? {
      name: '{v|v}{s|bary} {a|[km s}{p|−1}{a|]}', nameLocation: 'middle', nameGap: 30,
      nameTextStyle: { rich: {
        v: { fontFamily: 'Liberation Serif', fontStyle: 'italic', fontSize: 15, color: '#8a8a8a' },
        s: { fontFamily: 'Liberation Serif', fontSize: 10, color: '#8a8a8a', padding: [8, 0, 0, 0] },
        a: { fontFamily: 'Liberation Serif', fontSize: 15, color: '#8a8a8a' },
        p: { fontFamily: 'Liberation Serif', fontSize: 10, color: '#8a8a8a', padding: [0, 0, 8, 0] } } }
    } : null;
    const xr = addX(gr, 'bottom', r === 2, xrExtra);
    addX(gr, 'top', false);
    const yrExtra = (r === 1 && c === 0) ? {
      name: 'Δ [σ]', nameLocation: 'middle', nameGap: 36,
      nameTextStyle: { fontFamily: 'Liberation Serif', fontSize: 15, color: '#8a8a8a' }
    } : null;
    const yr = addY(gr, 'left', false, c === 0, yrExtra);
    addY(gr, 'right', false, false);

    series.push({ type: 'line', name: 'residual ' + (k + 1), xAxisIndex: xr, yAxisIndex: yr, data: pairs(resGrid[r][c]),
      step: 'middle', symbol: 'none', silent: true, z: 3,
      lineStyle: { color: 'rgba(70,70,235,0.85)', width: 1.2 }, itemStyle: { color: '#4a4aeb' },
      markLine: gridLines(false) });
  }
}

const titleX = [64, 443, 813, 1175];
const titles = epochTitles.map((t, i) => ({
  text: t, left: titleX[i], top: 16, padding: [2, 4, 2, 4], backgroundColor: '#ffffff',
  textStyle: { fontFamily: 'Lato', fontSize: 34, fontWeight: 'normal', color: '#000', lineHeight: 38 }
}));

const option = {
  animation: false,
  backgroundColor: '#ffffff',
  title: titles,
  grid: grids, xAxis: xAxes, yAxis: yAxes, legend: legends, series: series,
  graphic: [
    { type: 'rect', z: 100, shape: { x: 1405, y: 18, width: 220, height: 36 }, style: { fill: '#ffffff' } },
    { type: 'line', z: 101, shape: { x1: 1418, y1: 36, x2: 1598, y2: 36 }, style: { stroke: '#000', lineWidth: 3 } },
    { type: 'polygon', z: 101, shape: { points: [[1612, 36], [1596, 30.5], [1596, 41.5]] }, style: { fill: '#000' } },
    { type: 'rect', z: 110, shape: { x: 0, y: 0, width: 1884, height: 7 }, style: { fill: '#333333' } },
    { type: 'rect', z: 110, shape: { x: 0, y: 0, width: 5, height: 989 }, style: { fill: '#333333' } },
    { type: 'rect', z: 110, shape: { x: 1878, y: 0, width: 6, height: 989 }, style: { fill: '#444444' } },
    { type: 'rect', z: 110, shape: { x: 0, y: 984, width: 1884, height: 5 }, style: { fill: '#e2e2e2' } }
  ]
};

const chart = echarts.init(document.getElementById('c'), null, { renderer: 'canvas' });
chart.setOption(option);
</script>
</body></html>
